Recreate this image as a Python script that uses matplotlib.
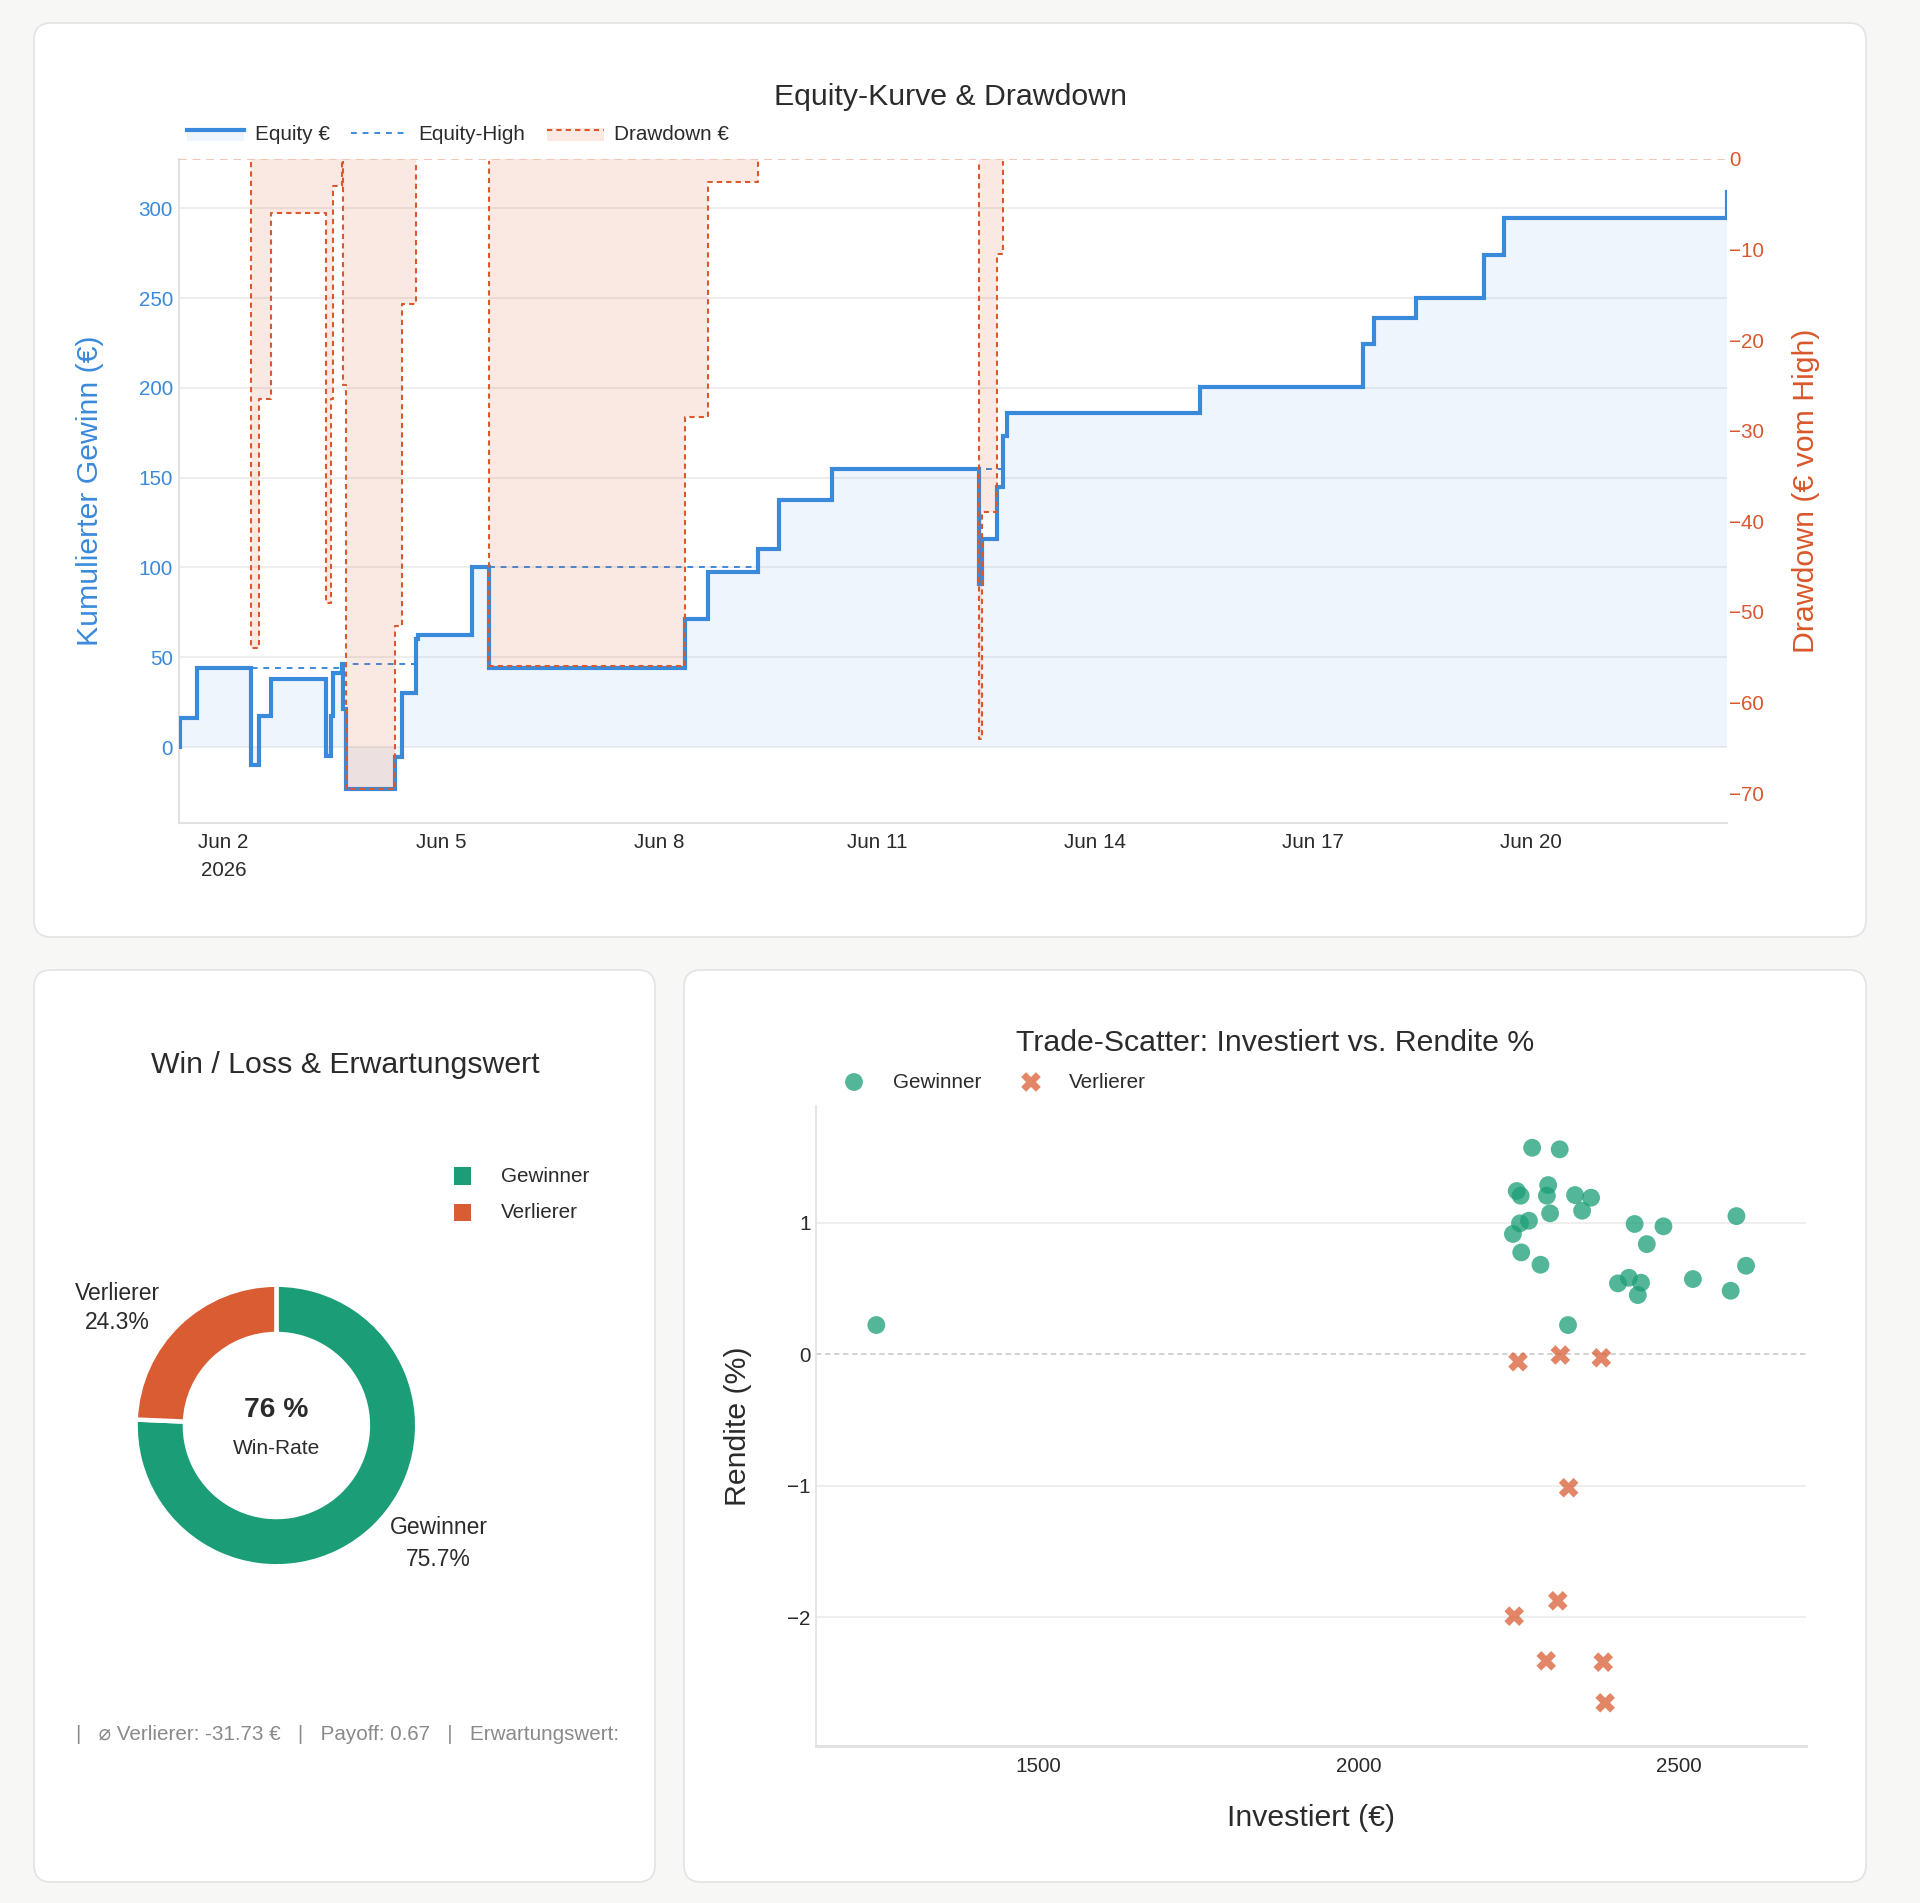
import numpy as np
import matplotlib
matplotlib.use("Agg")
import matplotlib.pyplot as plt
import matplotlib.dates as mdates
from matplotlib.patches import FancyBboxPatch, Rectangle
from matplotlib.lines import Line2D
from matplotlib.ticker import FixedLocator, FixedFormatter

plt.rcParams['font.family'] = ['Liberation Sans', 'DejaVu Sans']

# ---------------- data ----------------
trade_times = [
    "2026-06-01T09:20", "2026-06-01T09:30", "2026-06-01T15:25", "2026-06-02T09:15",
    "2026-06-02T11:50", "2026-06-02T15:45", "2026-06-03T09:50", "2026-06-03T11:30",
    "2026-06-03T12:15", "2026-06-03T15:20", "2026-06-03T15:40", "2026-06-03T16:25",
    "2026-06-04T08:40", "2026-06-04T11:10", "2026-06-04T15:35", "2026-06-04T16:15",
    "2026-06-05T10:10", "2026-06-05T15:40", "2026-06-08T08:25", "2026-06-08T16:05",
    "2026-06-09T08:30", "2026-06-09T15:35", "2026-06-10T09:10", "2026-06-12T09:40",
    "2026-06-12T10:45", "2026-06-12T15:45", "2026-06-12T17:45", "2026-06-12T19:00",
    "2026-06-15T10:45", "2026-06-17T16:25", "2026-06-17T20:05", "2026-06-18T10:05",
    "2026-06-19T08:40", "2026-06-19T15:05", "2026-06-22T16:50",
]
equity = [
    0, 16, 44, -10,
    17.5, 38, -5, 17.5,
    41, 46, 21, -23.5,
    -5.5, 30, 60, 62.5,
    100, 44, 71.5, 97.5,
    110, 137.5, 155, 91,
    116, 144.5, 173, 186,
    200.5, 224.5, 239, 250,
    274, 294.3, 309,
]
x_tick_dates = ["2026-06-02", "2026-06-05", "2026-06-08", "2026-06-11",
                "2026-06-14", "2026-06-17", "2026-06-20"]
x_tick_labels = ["Jun 2\n2026", "Jun 5", "Jun 8", "Jun 11", "Jun 14", "Jun 17", "Jun 20"]
left_ticks = [0, 50, 100, 150, 200, 250, 300]
right_ticks = [0, -10, -20, -30, -40, -50, -60, -70]

pie_labels = ["Gewinner", "Verlierer"]
pie_counts = [28, 9]
win_rate_text = "76 %"
footer_text = "|   \u2300 Verlierer: -31.73 \u20ac   |   Payoff: 0.67   |   Erwartungswert:"

win_invest = [1247, 2271, 2314, 2247, 2253, 2296, 2294, 2338, 2363, 2299, 2349, 2266,
              2252, 2241, 2254, 2284, 2431, 2476, 2450, 2590, 2605, 2405, 2422, 2441,
              2436, 2522, 2581, 2327]
win_return = [0.223, 1.572, 1.560, 1.243, 1.207, 1.288, 1.207, 1.212, 1.192, 1.073, 1.093, 1.017,
              0.997, 0.916, 0.776, 0.682, 0.992, 0.974, 0.839, 1.052, 0.674, 0.540, 0.583, 0.545,
              0.451, 0.573, 0.484, 0.223]
loss_invest = [2328, 2311, 2243, 2293, 2382, 2385, 2249, 2315, 2379]
loss_return = [-1.015, -1.875, -1.992, -2.332, -2.342, -2.651, -0.056, -0.005, -0.026]
scatter_xticks = [1500, 2000, 2500]
scatter_yticks = [-2, -1, 0, 1]

# ---------------- styling ----------------
W, H = 1920, 1903
BG = "#f7f7f6"
BLUE = "#3a8adb"
RED = "#d9582c"
GREEN = "#1b9e77"
PIE_RED = "#d95c33"
TXT = "#2b2b2b"
GRID = "#ebebeb"
SPINE = "#e2e2e2"
TITLE_FS = 21.8
AX_FS = 21.8
TICK_FS = 14.9


def fig_rect(x0, y0, x1, y1):
    return [x0 / W, 1 - y1 / H, (x1 - x0) / W, (y1 - y0) / H]


fig = plt.figure(figsize=(W / 100, H / 100), dpi=100, facecolor=BG)

bg = fig.add_axes([0, 0, 1, 1], zorder=-10)
bg.set_xlim(0, W)
bg.set_ylim(H, 0)
bg.axis("off")

for (x0, y0, x1, y1) in [(34, 23, 1866, 937), (34, 970, 655, 1882), (684, 970, 1866, 1882)]:
    bg.add_patch(FancyBboxPatch((x0, y0), x1 - x0, y1 - y0,
                                boxstyle="round,pad=0,rounding_size=17",
                                fc="white", ec="#e3e3e3", lw=1.2))

# ---------------- top chart ----------------
t = mdates.date2num(np.array(trade_times, dtype="datetime64[m]"))
eq = np.array(equity, dtype=float)
eq_high = np.maximum.accumulate(eq)
dd = eq - eq_high

ax = fig.add_axes(fig_rect(179, 159, 1727, 823))
ax.patch.set_visible(False)
ax.fill_between(t, eq, 0, step="post", color=BLUE, alpha=0.08, lw=0, zorder=1)
ax.step(t, eq, where="post", color=BLUE, lw=3.0, zorder=3, solid_joinstyle="miter")
ax.step(t, eq_high, where="post", color=BLUE, lw=1.4, ls=(0, (3, 3)), zorder=4)
ax.set_xlim(t[0], t[-1])
ax.set_ylim(-42.3, 327.4)
ax.set_yticks(left_ticks)
ax.tick_params(axis="y", length=0, labelcolor=BLUE, labelsize=TICK_FS, pad=4.5)
ax.xaxis.set_major_locator(FixedLocator(mdates.date2num(np.array(x_tick_dates, dtype="datetime64[m]"))))
ax.xaxis.set_major_formatter(FixedFormatter(x_tick_labels))
ax.tick_params(axis="x", length=0, labelcolor=TXT, labelsize=TICK_FS, pad=7.5)
for lbl in ax.get_xticklabels():
    lbl.set_linespacing(1.55)
ax.grid(axis="y", color=GRID, lw=1.2)
ax.set_axisbelow(True)
for s in ["top", "right"]:
    ax.spines[s].set_visible(False)
ax.spines["left"].set_color(SPINE)
ax.spines["bottom"].set_color(SPINE)
ax.spines["left"].set_linewidth(1.5)
ax.spines["bottom"].set_linewidth(1.5)

ax2 = ax.twinx()
ax2.patch.set_visible(False)
ax2.axhline(0, color="#f4c4b2", lw=1.4, ls=(0, (4, 3)), zorder=2)
ax2.fill_between(t, dd, 0, step="post", color=RED, alpha=0.13, lw=0, zorder=1)
dd_lines = ax2.step(t, dd, where="post", color=RED, lw=1.5, ls=(0, (2.5, 2)), zorder=3)
clip_rect = Rectangle((0, 0), 1, 1 - 2.0 / 664, transform=ax2.transAxes, visible=False)
ax2.add_patch(clip_rect)
for ln in dd_lines:
    ln.set_clip_path(clip_rect)
ax2.set_ylim(-73.3, 0)
ax2.set_yticks(right_ticks)
ax2.tick_params(axis="y", length=0, labelcolor=RED, labelsize=TICK_FS, pad=1.5)
for s in ax2.spines.values():
    s.set_visible(False)

bg.text(951, 97, "Equity-Kurve & Drawdown", ha="center", va="center", fontsize=TITLE_FS, color=TXT)
bg.text(90, 491, "Kumulierter Gewinn (\u20ac)", rotation=90, ha="center", va="center",
        fontsize=AX_FS, color=BLUE)
bg.text(1806, 491, "Drawdown (\u20ac vom High)", rotation=90, ha="center", va="center",
        fontsize=AX_FS, color=RED)

# legend (top)
bg.add_patch(Rectangle((187, 128), 57, 13, fc=BLUE, alpha=0.08, lw=0))
bg.add_line(Line2D([187, 244], [129.5, 129.5], color=BLUE, lw=3))
bg.text(255, 134, "Equity \u20ac", ha="left", va="center", fontsize=TICK_FS, color=TXT)
bg.add_line(Line2D([351, 404], [133, 133], color=BLUE, lw=1.4, ls=(0, (3, 3))))
bg.text(418, 134, "Equity-High", ha="left", va="center", fontsize=TICK_FS, color=TXT)
bg.add_patch(Rectangle((547, 128), 57, 13, fc=RED, alpha=0.13, lw=0))
bg.add_line(Line2D([547, 604], [129.5, 129.5], color=RED, lw=1.5, ls=(0, (2.5, 2))))
bg.text(614, 134, "Drawdown \u20ac", ha="left", va="center", fontsize=TICK_FS, color=TXT)

# ---------------- pie ----------------
cx, cy, R = 276.4, 1425.5, 140.8
pax = fig.add_axes(fig_rect(cx - R, cy - R, cx + R, cy + R))
pax.patch.set_visible(False)
pax.pie(pie_counts, colors=[GREEN, PIE_RED], startangle=90, counterclock=False, radius=1,
        wedgeprops=dict(width=0.35, edgecolor="white", linewidth=3.2))
pax.set_xlim(-1, 1)
pax.set_ylim(-1, 1)
pax.set_aspect("equal")

total = sum(pie_counts)
pct = [c / total * 100 for c in pie_counts]
PL_FS = 16.5
bg.text(438.4, 1528, pie_labels[0], ha="center", va="center", fontsize=PL_FS, color=TXT)
bg.text(438.4, 1559, f"{pct[0]:.1f}%", ha="center", va="center", fontsize=PL_FS, color=TXT)
bg.text(117.5, 1293, pie_labels[1], ha="center", va="center", fontsize=PL_FS, color=TXT)
bg.text(117.5, 1322.5, f"{pct[1]:.1f}%", ha="center", va="center", fontsize=PL_FS, color=TXT)
pax.text(0, 0.113, win_rate_text, ha="center", va="center", fontsize=20.3, fontweight="bold", color=TXT)
pax.text(0, -0.165, "Win-Rate", ha="center", va="center", fontsize=15, color=TXT)

bg.text(345, 1065, "Win / Loss & Erwartungswert", ha="center", va="center", fontsize=TITLE_FS, color=TXT)
for i, (lab, col) in enumerate(zip(pie_labels, [GREEN, PIE_RED])):
    yy = 1176 + i * 36.3
    bg.add_patch(Rectangle((454.2, yy - 8.6), 17.2, 17.2, fc=col, lw=0))
    bg.text(501, yy, lab, ha="left", va="center", fontsize=TICK_FS, color=TXT)

bg.text(76, 1734, footer_text, ha="left", va="center", fontsize=14.9, color="#8a8a8a")

# ---------------- scatter ----------------
sax = fig.add_axes(fig_rect(815.5, 1105.7, 1806, 1746))
sax.patch.set_visible(False)
sax.scatter(win_invest, win_return, s=165, marker="o", color=GREEN, alpha=0.75,
            edgecolors="none", zorder=3)
sax.scatter(loss_invest, loss_return, s=200, marker="X", color=RED, alpha=0.72,
            edgecolors="none", zorder=3)
sax.set_xlim(1152, 2698.6)
sax.set_ylim(-2.98, 1.892)
sax.set_xticks(scatter_xticks)
sax.set_yticks(scatter_yticks)
sax.tick_params(axis="both", length=0, labelcolor=TXT, labelsize=TICK_FS)
sax.tick_params(axis="y", pad=3.6)
sax.tick_params(axis="x", pad=8)
sax.grid(axis="y", color=GRID, lw=1.2)
sax.set_axisbelow(True)
for gl, tv in zip(sax.get_ygridlines(), scatter_yticks):
    if tv == 0:
        gl.set_visible(False)
sax.axhline(0, color="#cfcfcf", lw=1.3, ls=(0, (3, 2)), zorder=1)
for s in ["top", "right"]:
    sax.spines[s].set_visible(False)
sax.spines["left"].set_color(SPINE)
sax.spines["left"].set_linewidth(1.2)
sax.spines["bottom"].set_color(SPINE)
sax.spines["bottom"].set_linewidth(2.2)

bg.text(1275, 1043, "Trade-Scatter: Investiert vs. Rendite %", ha="center", va="center",
        fontsize=TITLE_FS, color=TXT)
bg.text(1310.7, 1818, "Investiert (\u20ac)", ha="center", va="center", fontsize=AX_FS, color=TXT)
bg.text(738, 1426, "Rendite (%)", rotation=90, ha="center", va="center", fontsize=AX_FS, color=TXT)

bg.scatter([854], [1082], s=165, marker="o", color=GREEN, alpha=0.75, edgecolors="none")
bg.text(893, 1082, "Gewinner", ha="left", va="center", fontsize=TICK_FS, color=TXT)
bg.scatter([1031], [1082], s=200, marker="X", color=RED, alpha=0.72, edgecolors="none")
bg.text(1069, 1082, "Verlierer", ha="left", va="center", fontsize=TICK_FS, color=TXT)

fig.savefig("out.png", dpi=100, facecolor=BG)
